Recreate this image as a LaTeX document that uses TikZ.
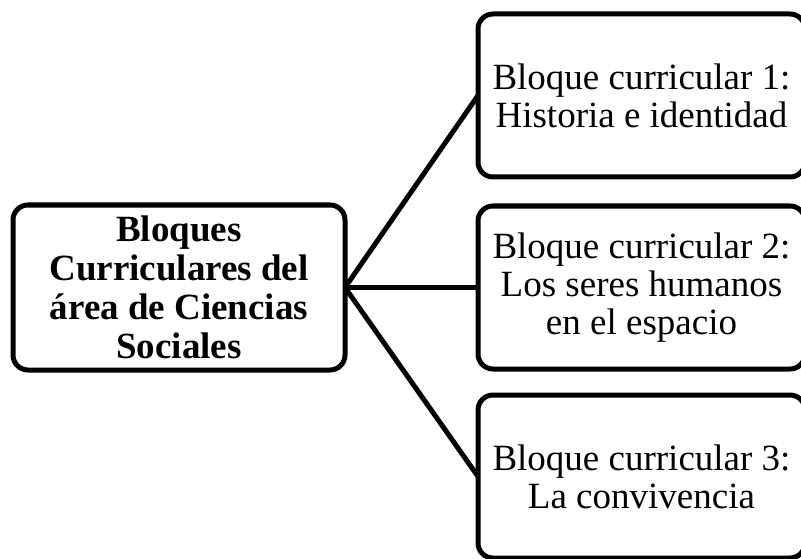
\documentclass[tikz,border=0pt]{standalone}
\usepackage{fontspec}
\setmainfont{Liberation Serif}
\usetikzlibrary{positioning}
\tikzstyle{mainblock} = [rectangle, rounded corners=15pt, minimum width=332pt, minimum height=165pt, align=center, draw=black, line width=5pt, outer sep=0pt, font=\bfseries\fontsize{37}{39}\selectfont]
\tikzstyle{subblock} = [rectangle, rounded corners=15pt, minimum width=327pt, minimum height=163pt, align=center, draw=black, line width=5pt, outer sep=0pt, font=\fontsize{37}{38}\selectfont]
\tikzstyle{link} = [line width=5pt]
\begin{document}
\begin{tikzpicture}[x=1pt, y=-1pt]
\useasboundingbox (0,0) rectangle (801,559);
\clip (0,0) rectangle (801,559);

\node (areas) [mainblock] at (179,287.5) {Bloques\\ Curriculares del\\ área de Ciencias\\ Sociales};

\node (bloque2) [subblock, right=133pt of areas] {Bloque curricular 2:\\ Los seres humanos\\ en el espacio};
\node (bloque1) [subblock, above=29pt of bloque2] {Bloque curricular 1:\\ Historia e identidad};
\node (bloque3) [subblock, below=26pt of bloque2] {Bloque curricular 3:\\ La convivencia};

\draw [link] (areas.east) -- (bloque1.west);
\draw [link] (areas.east) -- (bloque2.west);
\draw [link] (areas.east) -- (bloque3.west);
\end{tikzpicture}
\end{document}
